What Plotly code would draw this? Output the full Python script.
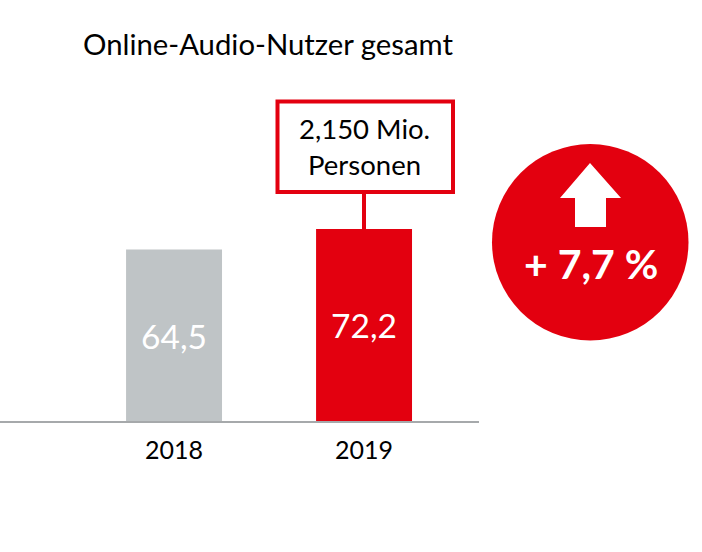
import plotly.graph_objects as go

years = ["2018", "2019"]
users = [64.5, 72.2]
labels = ["64,5", "72,2"]
bar_colors = ["#BFC4C6", "#E3000F"]
title_text = "Online-Audio-Nutzer gesamt"
callout_text = "2,150 Mio.<br>Personen"
growth_text = "+ 7,7 %"

W, H = 702, 552
RED = "#E3000F"
FONT = "Lato"
px = lambda v: v / W
py = lambda v: 1 - v / H

fig = go.Figure(go.Bar(
    x=years, y=users, width=0.505, marker=dict(color=bar_colors, line=dict(width=0)),
    text=labels, textposition="inside", insidetextanchor="middle", textangle=0,
    textfont=dict(family=FONT, size=33.5, color="#FFFFFF"), cliponaxis=False, hoverinfo="skip",
))

arrow = "M {} {} L {} {} L {} {} L {} {} L {} {} L {} {} L {} {} Z".format(
    px(590), py(163), px(621), py(198), px(606), py(198), px(606), py(227),
    px(575), py(227), px(575), py(198), px(560), py(198))

def note(text, x, y, size, color, align="center"):
    return dict(text=text, xref="paper", yref="paper", x=px(x), y=py(y), showarrow=False,
                xanchor="center", yanchor="middle", align=align,
                font=dict(family=FONT, size=size, color=color))

fig.update_layout(
    width=W, height=H, margin=dict(l=0, r=0, t=0, b=0),
    paper_bgcolor="white", plot_bgcolor="white", showlegend=False,
    xaxis=dict(domain=[0, 479 / W], type="category", range=[-0.916, 1.605],
               showgrid=False, zeroline=False, showline=False, ticks="outside",
               ticklen=6, tickcolor="rgba(0,0,0,0)",
               tickfont=dict(family=FONT, size=25, color="#000000")),
    yaxis=dict(domain=[130 / H, 1], range=[0, 157.8], visible=False),
    shapes=[
        dict(type="line", xref="paper", yref="paper", x0=0, x1=px(479), y0=py(422), y1=py(422),
             line=dict(color="#A6A9AB", width=2), layer="above"),
        dict(type="line", xref="paper", yref="paper", x0=px(364), x1=px(364), y0=py(192), y1=py(230),
             line=dict(color=RED, width=4)),
        dict(type="rect", xref="paper", yref="paper", x0=px(277.5), x1=px(453), y0=py(101.5), y1=py(192),
             line=dict(color=RED, width=4), fillcolor="white"),
        dict(type="circle", xref="paper", yref="paper", x0=px(492), x1=px(688.5), y0=py(144), y1=py(340.5),
             line=dict(width=0), fillcolor=RED),
        dict(type="path", xref="paper", yref="paper", path=arrow, fillcolor="white", line=dict(width=0)),
    ],
    annotations=[
        note(title_text, 268, 43, 29.3, "#000000"),
        note(callout_text, 364.5, 147, 27.5, "#000000"),
        note(f"<b>{growth_text}</b>", 590.5, 263, 41, "#FFFFFF"),
    ],
)

fig.write_html("out.html", config=dict(displayModeBar=False),
               post_script="document.body.style.margin='0';")
